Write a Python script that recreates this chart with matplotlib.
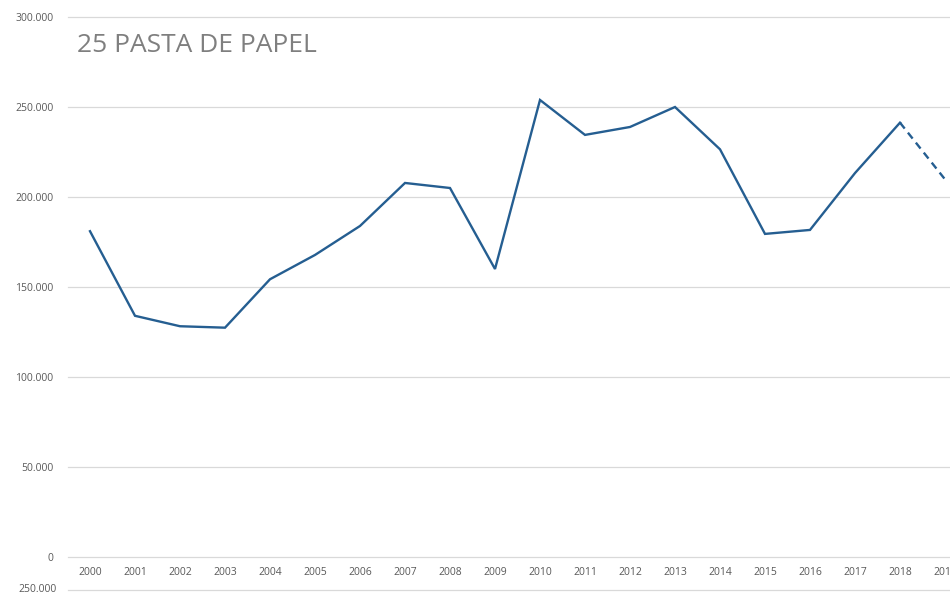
import matplotlib.pyplot as plt
from matplotlib.lines import Line2D
from matplotlib.ticker import FuncFormatter

# data
years = [str(y) for y in range(2000, 2020)]
values = [181000, 134000, 128200, 127400, 154300, 167800, 183900, 207800, 205000, 160000,
          253900, 234500, 238900, 250000, 226500, 179500, 181700, 213300, 241300, 209800]
y_ticks = [0, 50000, 100000, 150000, 200000, 250000, 300000]
title = "25 PASTA DE PAPEL"

line_color = '#255e91'
grid_color = '#d9d9d9'
text_color = '#595959'

plt.rcParams['font.family'] = ['Open Sans', 'DejaVu Sans']

W, H = 950, 597
fig = plt.figure(figsize=(W / 100, H / 100), dpi=100)
# axes extends a bit past the right edge, like the cropped original
ax = fig.add_axes([67.5 / W, (H - 557) / H, 900 / W, 540 / H])

x = list(range(len(years)))
ax.plot(x[:-1], values[:-1], color=line_color, lw=1.7, solid_joinstyle='miter', zorder=3)
ax.plot(x[-2:], values[-2:], color=line_color, lw=1.7, dashes=(3.2, 2.2), zorder=3)

ax.set_xlim(-0.5, len(years) - 0.5)
ax.set_ylim(0, 300000)
ax.set_xticks(x)
ax.set_xticklabels(years)
ax.set_yticks(y_ticks)
ax.yaxis.set_major_formatter(FuncFormatter(lambda v, p: f'{int(v):,}'.replace(',', '.')))
ax.grid(axis='y', color=grid_color, lw=0.9)
for gl in ax.get_ygridlines():
    gl.set_clip_on(False)
ax.set_axisbelow(True)
for s in ax.spines.values():
    s.set_visible(False)
ax.tick_params(axis='both', length=0, labelsize=7.5, labelcolor=text_color)
ax.tick_params(axis='y', pad=10)
ax.tick_params(axis='x', pad=7)

ax.text(77 / W, (H - 45) / H, title, transform=fig.transFigure, fontsize=19,
        color='#7f7f7f', va='center', ha='left')

# top of the next chart, cut off at the bottom
fig.text(57 / W, (H - 590) / H, '250.000', fontsize=7.5, color=text_color, ha='right', va='center')
fig.add_artist(Line2D([67.5 / W, 1.0], [(H - 590) / H] * 2, transform=fig.transFigure,
                      color=grid_color, lw=0.9))

fig.savefig('out.png', dpi=100)
